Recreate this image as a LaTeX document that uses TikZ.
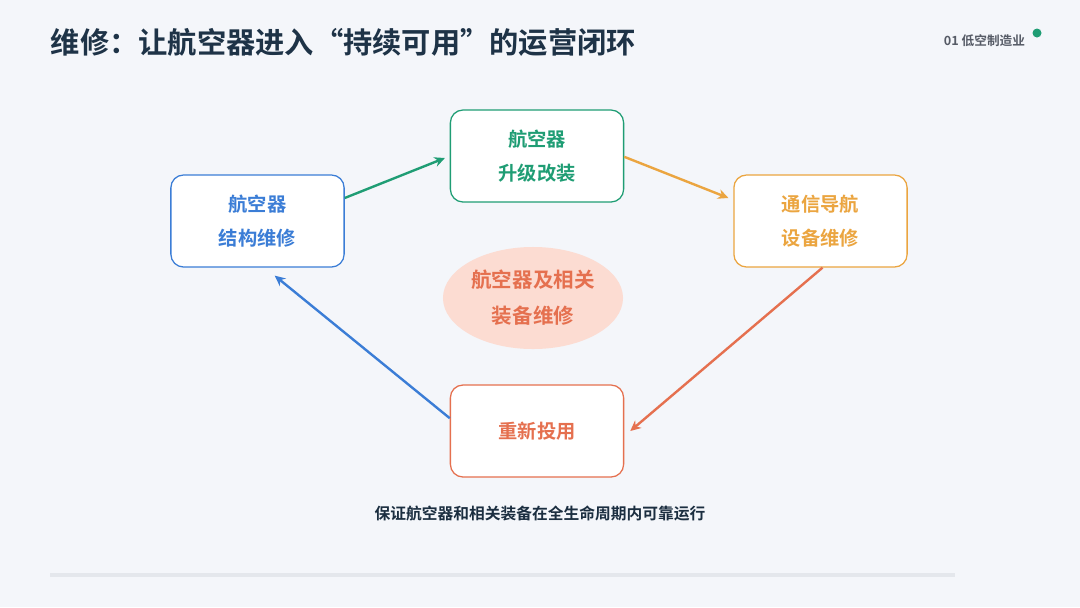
\documentclass[tikz,border=0pt]{standalone}
\usepackage{fontspec}
\setmainfont{Noto Sans CJK SC}[BoldFont={Noto Sans CJK SC Bold}]
\usepackage{xcolor}
\usepackage{tikz}
\usetikzlibrary{arrows.meta,shapes.geometric}
\definecolor{bg}{HTML}{F4F6FA}
\definecolor{titlec}{HTML}{1E3347}
\definecolor{tagc}{HTML}{565B66}
\definecolor{bluec}{HTML}{3B7DD6}
\definecolor{greenc}{HTML}{1F9D74}
\definecolor{orangec}{HTML}{EBA540}
\definecolor{redc}{HTML}{E5704F}
\definecolor{pinkc}{HTML}{FCDCD2}
\definecolor{linec}{HTML}{E4E7EC}
\tikzset{
  card/.style={draw=#1, text=#1, fill=white, line width=0.9pt, rounded corners=9pt,
    minimum width=4.33cm, minimum height=2.3cm, align=center,
    font=\bfseries\fontsize{13.7}{24}\selectfont},
  flow/.style={draw=#1, line width=1.7pt, -{Stealth[length=7.5pt,width=7pt]}},
  hub/.style={ellipse, fill=pinkc, text=redc, minimum width=4.5cm, minimum height=2.55cm,
    inner sep=0pt, align=center, font=\bfseries\fontsize{14.6}{25.5}\selectfont},
}

\begin{document}
\begin{tikzpicture}[x=0.025cm, y=-0.025cm]
  \fill[bg] (0,0) rectangle (1080,607);
  \useasboundingbox (0,0) rectangle (1080,607);
  % title and tag
  \node[anchor=west, text=titlec, font=\bfseries\fontsize{20.8}{23}\selectfont] (title) at (46,42) {维修：让航空器进入“持续可用”的运营闭环};
  \node[anchor=east, text=tagc, font=\bfseries\fontsize{9}{10}\selectfont] (tag) at (1030,41) {01 低空制造业};
  \fill[greenc] (1037,33) circle (4.5);
  % cycle
  \node[card=bluec] (lbox) at (257.5,221) {航空器\\结构维修};
  \node[card=greenc] (tbox) at (537,156) {航空器\\升级改装};
  \node[card=orangec] (rbox) at (820.5,221) {通信导航\\设备维修};
  \node[card=redc] (bbox) at (537,431) {重新投用};
  \node[hub] (hub) at (533,298) {航空器及相关\\装备维修};
  \draw[flow=greenc] ([yshift=0.575cm]lbox.east) -- ([yshift=-0.05cm,xshift=-0.12cm]tbox.west);
  \draw[flow=orangec] ([yshift=-0.02cm]tbox.east) -- ([yshift=0.575cm,xshift=-0.12cm]rbox.west);
  \draw[flow=redc] ([xshift=0.05cm]rbox.south) -- ([xshift=0.15cm]bbox.east);
  \draw[flow=bluec] ([yshift=0.32cm]bbox.west) -- ([xshift=0.43cm,yshift=-0.2cm]lbox.south);
  % caption and rule
  \node[text=titlec!90!black, font=\bfseries\fontsize{11.2}{12}\selectfont] (note) at (540,513) {保证航空器和相关装备在全生命周期内可靠运行};
  \draw[linec, line width=3pt] (50,575) -- (955,575);
\end{tikzpicture}
\end{document}
